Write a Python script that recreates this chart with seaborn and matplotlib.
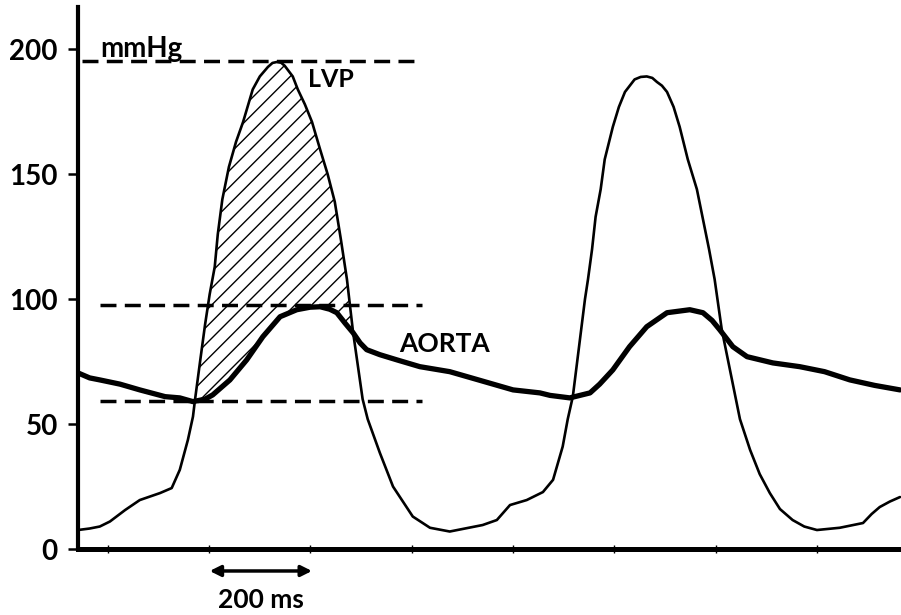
import numpy as np
import matplotlib
matplotlib.use("Agg")
import matplotlib.pyplot as plt
import seaborn as sns

# ---- data (time in ms, pressure in mmHg) ----
time_lvp_ms = [-59, -36, -16, 4, 34, 63, 103, 126, 142, 158, 168, 172, 182, 192, 201,
               211, 217, 226, 239, 253, 267, 286, 300, 316, 325, 334, 342, 349, 365, 375,
               389, 403, 419, 434, 448, 460, 466, 472, 484, 503, 513, 537, 563, 602, 636,
               675, 740, 768, 794, 827, 859, 879, 898, 908, 918, 926, 934, 942, 948,
               956, 963, 973, 981, 997, 1009, 1021, 1040, 1052, 1064, 1075, 1084, 1094,
               1104, 1117, 1129, 1145, 1163, 1175, 1187, 1198, 1212, 1232, 1248, 1268,
               1287, 1307, 1327, 1352, 1375, 1400, 1445, 1491, 1508, 1524, 1544, 1564]
lvp_mmhg = [7.6, 8.2, 9.0, 11.0, 15.6, 19.6, 22.4, 24.4, 31.7, 43.7, 53.0, 59.7, 75.0,
            90.0, 102.0, 113.0, 126.0, 140.0, 153.0, 163.0, 171.0, 184.0, 189.2, 193.0,
            194.6, 195.0, 194.7, 193.5, 189.2, 184.0, 178.0, 171.0, 160.0, 150.0, 139.0,
            124.0, 116.0, 108.0, 87.0, 60.0, 52.0, 38.5, 25.0, 13.0, 8.5, 7.0, 9.6, 11.6,
            17.6, 19.6, 22.8, 27.7, 41.0, 52.0, 61.0, 74.0, 87.0, 100.0, 108.0, 120.0,
            133.0, 144.0, 156.0, 169.0, 177.0, 183.0, 188.0, 189.0, 189.2, 188.6, 187.0,
            185.5, 183.0, 177.0, 169.0, 156.0, 144.0, 132.0, 120.0, 108.0, 88.0, 68.0,
            52.0, 39.7, 30.0, 22.4, 16.0, 11.6, 9.0, 7.6, 8.5, 10.4, 14.0, 16.8, 19.0,
            20.8]

time_aorta_ms = [-59, -36, -16, 24, 63, 113, 142, 168, 192, 207, 241, 274, 306, 340, 373,
                 399, 419, 438, 452, 468, 484, 498, 511, 537, 571, 616, 675, 735, 800,
                 853, 873, 912, 952, 971, 997, 1030, 1064, 1104, 1149, 1175, 1193, 1208,
                 1234, 1262, 1313, 1366, 1415, 1465, 1514, 1564]
aorta_mmhg = [70.5, 68.5, 67.7, 66.0, 63.7, 61.0, 60.5, 59.0, 60.0, 61.7, 67.7, 75.7,
              85.0, 93.0, 95.8, 96.8, 97.0, 96.0, 94.6, 90.5, 86.6, 82.5, 79.8, 77.8,
              75.7, 73.0, 71.0, 67.5, 63.7, 62.5, 61.5, 60.5, 62.5, 66.0, 71.7, 81.0,
              89.0, 94.6, 95.8, 94.6, 91.5, 87.8, 81.0, 77.0, 74.5, 73.0, 71.0, 67.7,
              65.5, 63.7]

y_ticks = [0, 50, 100, 150, 200]
x_ticks_ms = [0, 200, 400, 600, 800, 1000, 1200, 1400]
ref_levels = [195.4, 97.8, 59.4]
ref_starts_ms = [-51, -16, -16]
ref_end_ms = 620
work_window_ms = [170, 486]
scale_bar_ms = [201, 403]

# ---- style ----
sns.set_theme(style="white")
plt.rcParams['font.family'] = ['Lato', 'DejaVu Sans']
plt.rcParams['hatch.linewidth'] = 1.0
plt.rcParams['hatch.color'] = 'black'
plt.rcParams['text.color'] = 'black'
plt.rcParams['ytick.color'] = 'black'
plt.rcParams['xtick.color'] = 'black'
plt.rcParams['axes.labelcolor'] = 'black'

fig = plt.figure(figsize=(9.01, 6.15), dpi=100)
ax = fig.add_axes([78 / 901, 1 - 549 / 615, 1 - 78 / 901, (549 - 7) / 615])

# hatched area between LVP and aorta during ejection
tl = np.array(time_lvp_ms)
pl = np.array(lvp_mmhg)
ta = np.array(time_aorta_ms)
pa = np.array(aorta_mmhg)
ml = (tl >= work_window_ms[0]) & (tl <= work_window_ms[1])
ma = (ta >= work_window_ms[0] - 4) & (ta <= work_window_ms[1])
poly_x = np.concatenate([tl[ml], ta[ma][::-1]])
poly_y = np.concatenate([pl[ml], pa[ma][::-1]])
ax.fill(poly_x, poly_y, facecolor='none', edgecolor='black', hatch='//', linewidth=0)

# dashed reference levels
for lev, x0 in zip(ref_levels, ref_starts_ms):
    ax.plot([x0, ref_end_ms], [lev, lev], color='black', lw=2.5,
            linestyle=(0, (4.6, 2.4)), zorder=3)

sns.lineplot(x=time_aorta_ms, y=aorta_mmhg, ax=ax, color='black', linewidth=3.8,
             estimator=None, sort=False, zorder=4)
sns.lineplot(x=time_lvp_ms, y=lvp_mmhg, ax=ax, color='black', linewidth=1.9,
             estimator=None, sort=False, zorder=5)
for ln in ax.get_lines():
    ln.set_solid_joinstyle('round')
    ln.set_solid_capstyle('round')

ax.set_xlim(-59, 1566)
ax.set_ylim(0, 217)
ax.set_yticks(y_ticks)
ax.set_yticklabels([str(v) for v in y_ticks], fontsize=20, fontweight='bold',
                   color='black')
ax.set_xticks(x_ticks_ms)
ax.set_xticklabels([])
ax.tick_params(axis='y', direction='out', length=7.5, width=1.8, color='black', pad=7,
               left=True)
ax.tick_params(axis='x', direction='inout', length=6, width=1.0, color='black', bottom=True)
ax.set_xlabel('')
ax.set_ylabel('')
for side in ['top', 'right']:
    ax.spines[side].set_visible(False)
ax.spines['left'].set_linewidth(3.0)
ax.spines['bottom'].set_linewidth(3.6)
ax.spines['left'].set_color('black')
ax.spines['bottom'].set_color('black')

# annotations
ax.text(-16, 196.8, 'mmHg', fontsize=20, fontweight='bold', ha='left', va='baseline',
        color='black', zorder=6)
ax.text(395, 184.8, 'LVP', fontsize=18, fontweight='bold', ha='left', va='baseline',
        color='black')
ax.text(576, 79, 'AORTA', fontsize=19, fontweight='bold', ha='left', va='baseline',
        color='black')
ax.annotate('', xy=(scale_bar_ms[0], -8.8), xytext=(scale_bar_ms[1], -8.8),
            arrowprops=dict(arrowstyle='<|-|>', color='black', lw=2.5,
                            mutation_scale=16, shrinkA=0, shrinkB=0),
            annotation_clip=False)
ax.text(sum(scale_bar_ms) / 2, -23.6, '200 ms', fontsize=19, fontweight='bold',
        ha='center', va='baseline', color='black', clip_on=False)

fig.savefig('out.png', dpi=100, facecolor='white')
